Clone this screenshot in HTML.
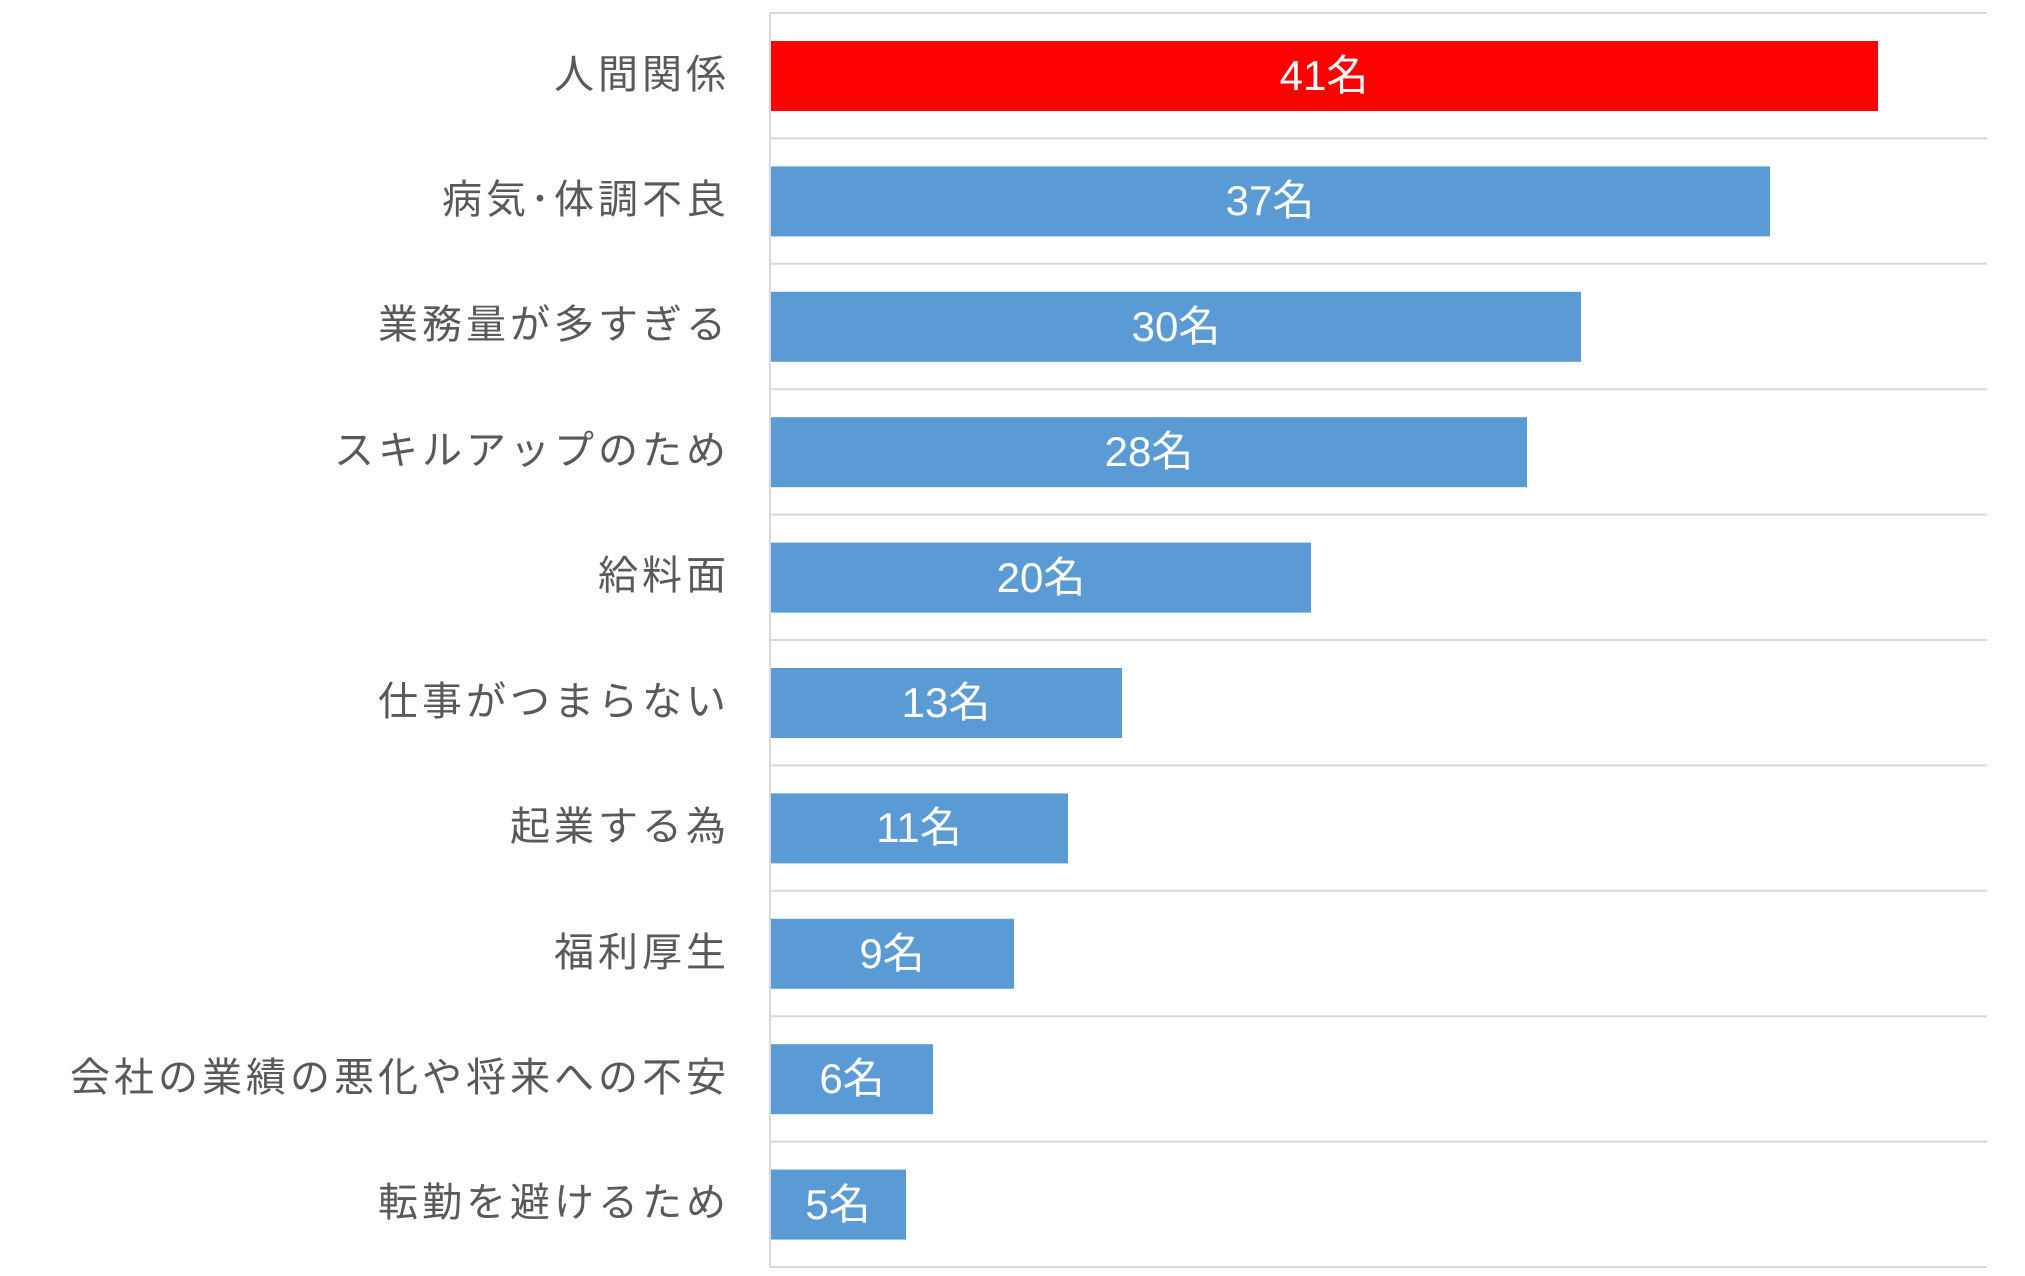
<!DOCTYPE html>
<html><head><meta charset="utf-8"><style>
body{margin:0;background:#fff;width:2025px;height:1271px;overflow:hidden}
svg text{font-family:"Liberation Sans","Noto Sans CJK JP",sans-serif}
</style></head><body>
<svg width="2025" height="1271" xmlns="http://www.w3.org/2000/svg">
<g stroke="#d9d9d9" stroke-width="2">
<line x1="770" y1="13" x2="1987" y2="13"/><line x1="770" y1="138.4" x2="1987" y2="138.4"/>
<line x1="770" y1="263.8" x2="1987" y2="263.8"/><line x1="770" y1="389.2" x2="1987" y2="389.2"/>
<line x1="770" y1="514.6" x2="1987" y2="514.6"/><line x1="770" y1="640" x2="1987" y2="640"/>
<line x1="770" y1="765.4" x2="1987" y2="765.4"/><line x1="770" y1="890.8" x2="1987" y2="890.8"/>
<line x1="770" y1="1016.2" x2="1987" y2="1016.2"/><line x1="770" y1="1141.6" x2="1987" y2="1141.6"/>
<line x1="770" y1="1267" x2="1987" y2="1267"/>
<line x1="770" y1="13" x2="770" y2="1267"/>
</g>
<g>
<rect x="771" y="41" width="1107" height="70" fill="#ff0000"/>
<rect x="771" y="166.4" width="999" height="70" fill="#5b9bd5"/>
<rect x="771" y="291.8" width="810" height="70" fill="#5b9bd5"/>
<rect x="771" y="417.2" width="756" height="70" fill="#5b9bd5"/>
<rect x="771" y="542.6" width="540" height="70" fill="#5b9bd5"/>
<rect x="771" y="668" width="351" height="70" fill="#5b9bd5"/>
<rect x="771" y="793.4" width="297" height="70" fill="#5b9bd5"/>
<rect x="771" y="918.8" width="243" height="70" fill="#5b9bd5"/>
<rect x="771" y="1044.2" width="162" height="70" fill="#5b9bd5"/>
<rect x="771" y="1169.6" width="135" height="70" fill="#5b9bd5"/>
</g>
<g fill="#fff" font-size="42" text-anchor="middle">
<text x="1324" y="90">41名</text><text x="1270" y="215">37名</text>
<text x="1176" y="341">30名</text><text x="1149" y="466">28名</text>
<text x="1041" y="592">20名</text><text x="946" y="717">13名</text>
<text x="919" y="842">11名</text><text x="892" y="968">9名</text>
<text x="852" y="1093">6名</text><text x="838" y="1219">5名</text>
</g>
<g fill="#595959" font-size="40" text-anchor="end" letter-spacing="4">
<text x="730" y="88">人間関係</text><text x="730" y="213">病気･体調不良</text>
<text x="730" y="338">業務量が多すぎる</text><text x="730" y="464">スキルアップのため</text>
<text x="730" y="589">給料面</text><text x="730" y="715">仕事がつまらない</text>
<text x="730" y="840">起業する為</text><text x="730" y="966">福利厚生</text>
<text x="730" y="1091">会社の業績の悪化や将来への不安</text><text x="730" y="1216">転勤を避けるため</text>
</g>
</svg>
</body></html>
